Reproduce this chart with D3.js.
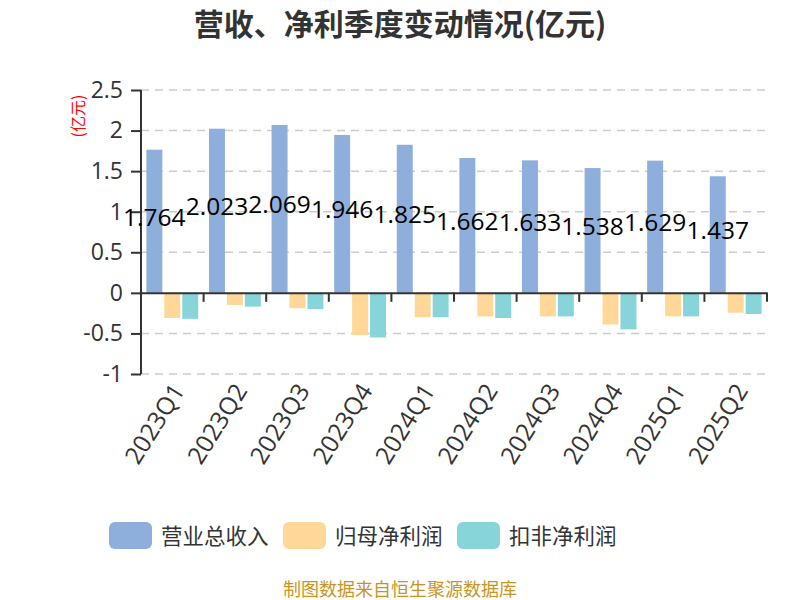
<!DOCTYPE html>
<html lang="zh">
<head>
<meta charset="UTF-8">
<title>营收、净利季度变动情况(亿元)</title>
<style>
  body { margin: 0; background: #fff; }
  svg { display: block; font-family: "Noto Sans CJK SC", "Noto Sans", sans-serif; }
  .grid line { stroke: #ccc; stroke-dasharray: 8 6; stroke-width: 1.5px; }
</style>
<script src="https://cdn.jsdelivr.net/npm/d3@7"></script>
</head>
<body>
<svg width="800" height="600"></svg>
<script>
var quarters = ["2023Q1", "2023Q2", "2023Q3", "2023Q4", "2024Q1", "2024Q2", "2024Q3", "2024Q4", "2025Q1", "2025Q2"];
var revenue = [1.764, 2.023, 2.069, 1.946, 1.825, 1.662, 1.633, 1.538, 1.629, 1.437];
var netProfit = [-0.31, -0.15, -0.19, -0.52, -0.30, -0.29, -0.29, -0.39, -0.29, -0.245];
var deductedProfit = [-0.32, -0.17, -0.20, -0.55, -0.30, -0.31, -0.29, -0.45, -0.29, -0.26];
var yTicks = [2.5, 2, 1.5, 1, 0.5, 0, -0.5, -1];

var seriesNames = ["营业总收入", "归母净利润", "扣非净利润"];
var colors = ["#8eaedb", "#ffd899", "#87d5d8"];
var series = [revenue, netProfit, deductedProfit];

var svg = d3.select("svg");
var plotLeft = 141, plotRight = 767, plotTop = 90, plotBottom = 374;
var numFont = "'Open Sans', 'Noto Sans', sans-serif";

var x = d3.scaleBand().domain(quarters).range([plotLeft, plotRight]);
var y = d3.scaleLinear().domain([-1, 2.5]).range([plotBottom, plotTop]);
var inner = d3.scaleBand().domain(d3.range(3)).range([0, x.bandwidth()]).paddingInner(0.11).paddingOuter(0.3);

// title
svg.append("text")
    .attr("x", 400).attr("y", 35)
    .attr("text-anchor", "middle")
    .attr("font-size", 30).attr("font-weight", "bold").attr("fill", "#333")
    .text("营收、净利季度变动情况(亿元)");

// grid
svg.append("g").attr("class", "grid")
    .selectAll("line").data(yTicks.filter(function(t) { return t !== 0; }))
    .enter().append("line")
    .attr("x1", plotLeft).attr("x2", plotRight)
    .attr("y1", function(d) { return y(d); }).attr("y2", function(d) { return y(d); });

// bars
series.forEach(function(vals, s) {
    svg.append("g").selectAll("rect").data(vals).enter().append("rect")
        .attr("x", function(d, i) { return x(quarters[i]) + inner(s); })
        .attr("width", inner.bandwidth())
        .attr("y", function(d) { return y(Math.max(0, d)); })
        .attr("height", function(d) { return Math.abs(y(d) - y(0)); })
        .attr("fill", colors[s]);
});

// y axis
var yAxis = svg.append("g")
    .attr("transform", "translate(" + plotLeft + ",0)")
    .call(d3.axisLeft(y).tickValues(yTicks).tickSize(10).tickFormat(function(d) { return String(d); }));
yAxis.select(".domain").attr("stroke", "#333").attr("stroke-width", 2).attr("d", "M0," + plotTop + "V" + plotBottom);
yAxis.selectAll(".tick line").attr("stroke", "#333").attr("stroke-width", 2);
yAxis.selectAll(".tick text").attr("font-size", 23).attr("fill", "#333").attr("x", -18)
    .attr("font-family", numFont);

// x axis at zero
var xAxis = svg.append("g")
    .attr("transform", "translate(0," + y(0) + ")")
    .call(d3.axisBottom(x).tickSize(0).tickSizeOuter(0));
xAxis.select(".domain").attr("stroke", "#333").attr("stroke-width", 2);
xAxis.selectAll(".tick text").remove();
xAxis.selectAll(".bound").data(quarters).enter().append("line")
    .attr("class", "bound")
    .attr("x1", function(d) { return x(d) + x.step(); })
    .attr("x2", function(d) { return x(d) + x.step(); })
    .attr("y1", 0).attr("y2", 9)
    .attr("stroke", "#333").attr("stroke-width", 2);

// x labels
svg.append("g").selectAll("text").data(quarters).enter().append("text")
    .attr("transform", function(d) {
        return "translate(" + (x(d) + x.bandwidth() / 2 + 6) + "," + (plotBottom + 12) + ") rotate(-58)";
    })
    .attr("text-anchor", "end")
    .attr("dy", "0.35em")
    .attr("font-size", 24.5).attr("fill", "#333")
    .attr("font-family", numFont)
    .text(function(d) { return d; });

// value labels
svg.append("g").selectAll("text").data(revenue).enter().append("text")
    .attr("x", function(d, i) { return x(quarters[i]) + inner(0) + inner.bandwidth() / 2; })
    .attr("y", function(d) { return (y(d) + y(0)) / 2; })
    .attr("dy", "0.18em")
    .attr("text-anchor", "middle")
    .attr("font-size", 24.5).attr("fill", "#000")
    .attr("font-family", numFont)
    .text(function(d) { return d; });

// unit
svg.append("text")
    .attr("transform", "translate(84,116) rotate(-90)")
    .attr("text-anchor", "middle")
    .attr("font-size", 16).attr("fill", "red")
    .text("(亿元)");

// legend
var legendX = [109, 283, 457];
var legend = svg.append("g").selectAll("g").data(seriesNames).enter().append("g")
    .attr("transform", function(d, i) { return "translate(" + legendX[i] + ",522)"; });
legend.append("rect")
    .attr("width", 43).attr("height", 27).attr("rx", 6)
    .attr("fill", function(d, i) { return colors[i]; });
legend.append("text")
    .attr("x", 52).attr("y", 14).attr("dy", "0.36em")
    .attr("font-size", 21.5).attr("fill", "#333")
    .text(function(d) { return d; });

// footer
svg.append("text")
    .attr("x", 400).attr("y", 596)
    .attr("text-anchor", "middle")
    .attr("font-size", 18).attr("fill", "#c8951f")
    .text("制图数据来自恒生聚源数据库");
</script>
</body>
</html>
